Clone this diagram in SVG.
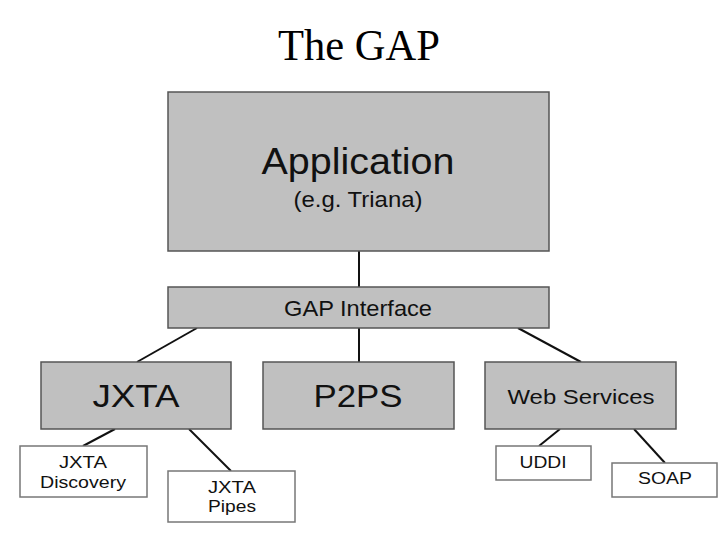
<svg xmlns="http://www.w3.org/2000/svg" width="720" height="540" viewBox="0 0 720 540">
<style>
.box{fill:#c0c0c0;stroke:#555;stroke-width:1.5}
.sub{fill:#fff;stroke:#777;stroke-width:1.5}
.t{font-family:"Liberation Sans",Arial,sans-serif;fill:#111;text-anchor:middle}
.c{stroke:#111;stroke-width:2;fill:none}
</style>
<rect width="720" height="540" fill="#fff"/>
<text x="359" y="60" font-family="Liberation Serif,'Times New Roman',serif" font-size="44" text-anchor="middle" fill="#000" textLength="162" lengthAdjust="spacingAndGlyphs">The GAP</text>
<g id="connectors">
<line class="c" x1="359" y1="251" x2="359" y2="287"/>
<line class="c" x1="197" y1="328" x2="137" y2="362"/>
<line class="c" x1="359" y1="328" x2="359" y2="362"/>
<line class="c" x1="518" y1="328" x2="581" y2="362"/>
<line class="c" x1="115" y1="429" x2="83" y2="446"/>
<line class="c" x1="189" y1="429" x2="231" y2="471"/>
<line class="c" x1="560" y1="429" x2="539" y2="446"/>
<line class="c" x1="634" y1="429" x2="665" y2="463"/>
</g>
<g id="application">
<rect class="box" x="168" y="92" width="381" height="159"/>
<text class="t" x="358" y="174" font-size="36" textLength="193" lengthAdjust="spacingAndGlyphs">Application</text>
<text class="t" x="358" y="207" font-size="22" textLength="129" lengthAdjust="spacingAndGlyphs">(e.g. Triana)</text>
</g>
<g id="gap-interface">
<rect class="box" x="168" y="287" width="381" height="41"/>
<text class="t" x="358" y="316" font-size="22" textLength="148" lengthAdjust="spacingAndGlyphs">GAP Interface</text>
</g>
<g id="jxta">
<rect class="box" x="41" y="362" width="190" height="67"/>
<text class="t" x="136" y="407" font-size="31" textLength="87" lengthAdjust="spacingAndGlyphs">JXTA</text>
</g>
<g id="p2ps">
<rect class="box" x="263" y="362" width="191" height="67"/>
<text class="t" x="358" y="407" font-size="31" textLength="89" lengthAdjust="spacingAndGlyphs">P2PS</text>
</g>
<g id="web-services">
<rect class="box" x="485" y="362" width="191" height="67"/>
<text class="t" x="581" y="404" font-size="21" textLength="147" lengthAdjust="spacingAndGlyphs">Web Services</text>
</g>
<g id="jxta-discovery">
<rect class="sub" x="20" y="446" width="127" height="51"/>
<text class="t" x="83" y="468" font-size="16" textLength="48" lengthAdjust="spacingAndGlyphs">JXTA</text>
<text class="t" x="83" y="488" font-size="17" textLength="86" lengthAdjust="spacingAndGlyphs">Discovery</text>
</g>
<g id="jxta-pipes">
<rect class="sub" x="168" y="471" width="127" height="51"/>
<text class="t" x="232" y="493" font-size="16" textLength="48" lengthAdjust="spacingAndGlyphs">JXTA</text>
<text class="t" x="232" y="512" font-size="17" textLength="48" lengthAdjust="spacingAndGlyphs">Pipes</text>
</g>
<g id="uddi">
<rect class="sub" x="496" y="446" width="95" height="34"/>
<text class="t" x="543" y="468" font-size="16" textLength="47" lengthAdjust="spacingAndGlyphs">UDDI</text>
</g>
<g id="soap">
<rect class="sub" x="612" y="463" width="105" height="34"/>
<text class="t" x="665" y="484" font-size="16" textLength="54" lengthAdjust="spacingAndGlyphs">SOAP</text>
</g>
</svg>
